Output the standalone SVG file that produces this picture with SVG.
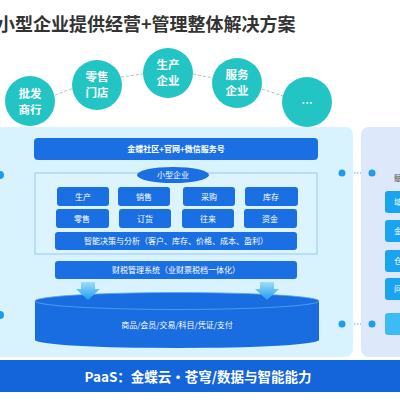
<svg xmlns="http://www.w3.org/2000/svg" width="400" height="400" viewBox="0 0 400 400">
<defs>
<style>
.cjk{font-family:"Noto Sans CJK SC","Liberation Sans",sans-serif;}
.circ{fill:#22c4c4;}
.ct{fill:#fff;font-size:11.5px;font-weight:bold;text-anchor:middle;}
.box{fill:#1a6fe3;}
.bt{fill:#fff;font-size:8px;text-anchor:middle;}
.rb{fill:#1aa3ee;}
.dot{fill:#1f9bf0;}
.dl{stroke:#4aa8f0;stroke-width:1;stroke-dasharray:1.5 1.5;fill:none;}
.cl{stroke:#bbbbbb;stroke-width:1;stroke-dasharray:3 2;fill:none;}
</style>
<linearGradient id="ag" x1="0" y1="0" x2="0" y2="1">
<stop offset="0" stop-color="#9fdcfb"/>
<stop offset="1" stop-color="#1c9ef0"/>
</linearGradient>
</defs>
<rect width="400" height="400" fill="#fff"/>
<text class="cjk" x="-3" y="31" font-size="18" font-weight="bold" fill="#333">小型企业提供经营+管理整体解决方案</text>

<g id="connectors">
<path class="cl" d="M55 95 L74 88"/>
<path class="cl" d="M121 77 L143 74"/>
<path class="cl" d="M193 74 L213 78"/>
<path class="cl" d="M262 89 L283 96"/>
<path class="dl" d="M342 173 L372 173"/>
<path class="dl" d="M342 324 L372 324"/>
</g>

<g id="circle-pifa"><circle class="circ" cx="30" cy="101" r="25"/><text class="cjk ct" x="30" y="98">批发</text><text class="cjk ct" x="30" y="114">商行</text></g>
<g id="circle-lingshou"><circle class="circ" cx="97" cy="85" r="25"/><text class="cjk ct" x="97" y="81">零售</text><text class="cjk ct" x="97" y="97">门店</text></g>
<g id="circle-shengchan"><circle class="circ" cx="168" cy="73" r="25"/><text class="cjk ct" x="168" y="69">生产</text><text class="cjk ct" x="168" y="85">企业</text></g>
<g id="circle-fuwu"><circle class="circ" cx="237" cy="83" r="25"/><text class="cjk ct" x="237" y="79">服务</text><text class="cjk ct" x="237" y="95">企业</text></g>
<g id="circle-more"><circle class="circ" cx="307" cy="102" r="25"/><text class="cjk ct" x="307" y="107">…</text></g>

<g id="left-panel">
<rect x="-10" y="127" width="363" height="230" rx="8" fill="#d8f3fd"/>
<circle class="dot" cx="0" cy="175" r="4"/>
<circle class="dot" cx="0" cy="315" r="4"/>
<circle class="dot" cx="342" cy="173" r="3.5"/>
<circle class="dot" cx="342" cy="324" r="3.5"/>
</g>

<g id="right-panel">
<rect x="361" y="127" width="60" height="230" rx="8" fill="#dde9fb"/>
<circle class="dot" cx="372" cy="173" r="3.5"/>
<circle class="dot" cx="372" cy="324" r="3.5"/>
<text class="cjk" x="394" y="181" font-size="8" fill="#444">赋能</text>
<rect class="rb" x="385" y="191" width="30" height="22" rx="3"/>
<text class="cjk" x="394" y="205" font-size="8" fill="#fff">域名</text>
<rect class="rb" x="385" y="220" width="30" height="22" rx="3"/>
<text class="cjk" x="394" y="234" font-size="8" fill="#fff">金融</text>
<rect class="rb" x="385" y="250" width="30" height="22" rx="3"/>
<text class="cjk" x="394" y="264" font-size="8" fill="#fff">仓储</text>
<rect class="rb" x="385" y="278" width="30" height="22" rx="3"/>
<text class="cjk" x="394" y="292" font-size="8" fill="#fff">问答</text>
<rect x="385" y="313" width="30" height="22" rx="3" fill="#3cbcf5"/>
</g>

<g id="portal">
<rect class="box" x="34" y="138" width="284" height="22" rx="4"/>
<text class="cjk bt" x="176" y="152" font-weight="bold">金蝶社区+官网+微信服务号</text>
</g>

<g id="small-enterprise">
<rect x="35" y="173" width="282" height="81" fill="#dcf4fd" stroke="#95c8f5" stroke-width="1"/>
<ellipse class="box" cx="173" cy="175" rx="36" ry="8"/>
<text class="cjk bt" x="173" y="178">小型企业</text>
</g>

<g id="m-shengchan"><rect class="box" x="57" y="187" width="52" height="19" rx="3"/><text class="cjk bt" x="83" y="199.5">生产</text></g>
<g id="m-xiaoshou"><rect class="box" x="118" y="187" width="52" height="19" rx="3"/><text class="cjk bt" x="144" y="199.5">销售</text></g>
<g id="m-caigou"><rect class="box" x="183" y="187" width="52" height="19" rx="3"/><text class="cjk bt" x="209" y="199.5">采购</text></g>
<g id="m-kucun"><rect class="box" x="245" y="187" width="53" height="19" rx="3"/><text class="cjk bt" x="271" y="199.5">库存</text></g>
<g id="m-lingshou"><rect class="box" x="56" y="209" width="53" height="19" rx="3"/><text class="cjk bt" x="82" y="221.5">零售</text></g>
<g id="m-dinghuo"><rect class="box" x="119" y="209" width="52" height="19" rx="3"/><text class="cjk bt" x="145" y="221.5">订货</text></g>
<g id="m-wanglai"><rect class="box" x="182" y="209" width="52" height="19" rx="3"/><text class="cjk bt" x="208" y="221.5">往来</text></g>
<g id="m-zijin"><rect class="box" x="244" y="209" width="53" height="19" rx="3"/><text class="cjk bt" x="270" y="221.5">资金</text></g>
<g id="m-zhineng"><rect class="box" x="55" y="232" width="242" height="18" rx="3"/><text class="cjk bt" x="176" y="244">智能决策与分析（客户、库存、价格、成本、盈利）</text></g>

<g id="finance">
<rect class="box" x="55" y="261" width="242" height="18" rx="3"/>
<text class="cjk bt" x="176" y="273">财税管理系统（业财票税档一体化）</text>
</g>

<g id="database">
<path d="M35 301 L35 340 A142 8 0 0 0 319 340 L319 301 Z" fill="#1a6de0"/>
<ellipse cx="177" cy="301" rx="142" ry="8.5" fill="#1a6de0" stroke="#5da4f0" stroke-width="0.8"/>
<text class="cjk bt" x="177" y="328">商品/会员/交易/科目/凭证/支付</text>
</g>

<g id="arrows">
<path d="M81 282 L95 282 L95 289 L100 289 L88 300 L76 289 L81 289 Z" fill="url(#ag)"/>
<path d="M260 282 L274 282 L274 289 L279 289 L267 300 L255 289 L260 289 Z" fill="url(#ag)"/>
</g>

<g id="paas">
<rect x="0" y="360" width="400" height="32" fill="#1565da"/>
<text class="cjk" x="198" y="382" font-size="13.5" font-weight="bold" fill="#fff" text-anchor="middle">PaaS：金蝶云·苍穹/数据与智能能力</text>
</g>
</svg>
